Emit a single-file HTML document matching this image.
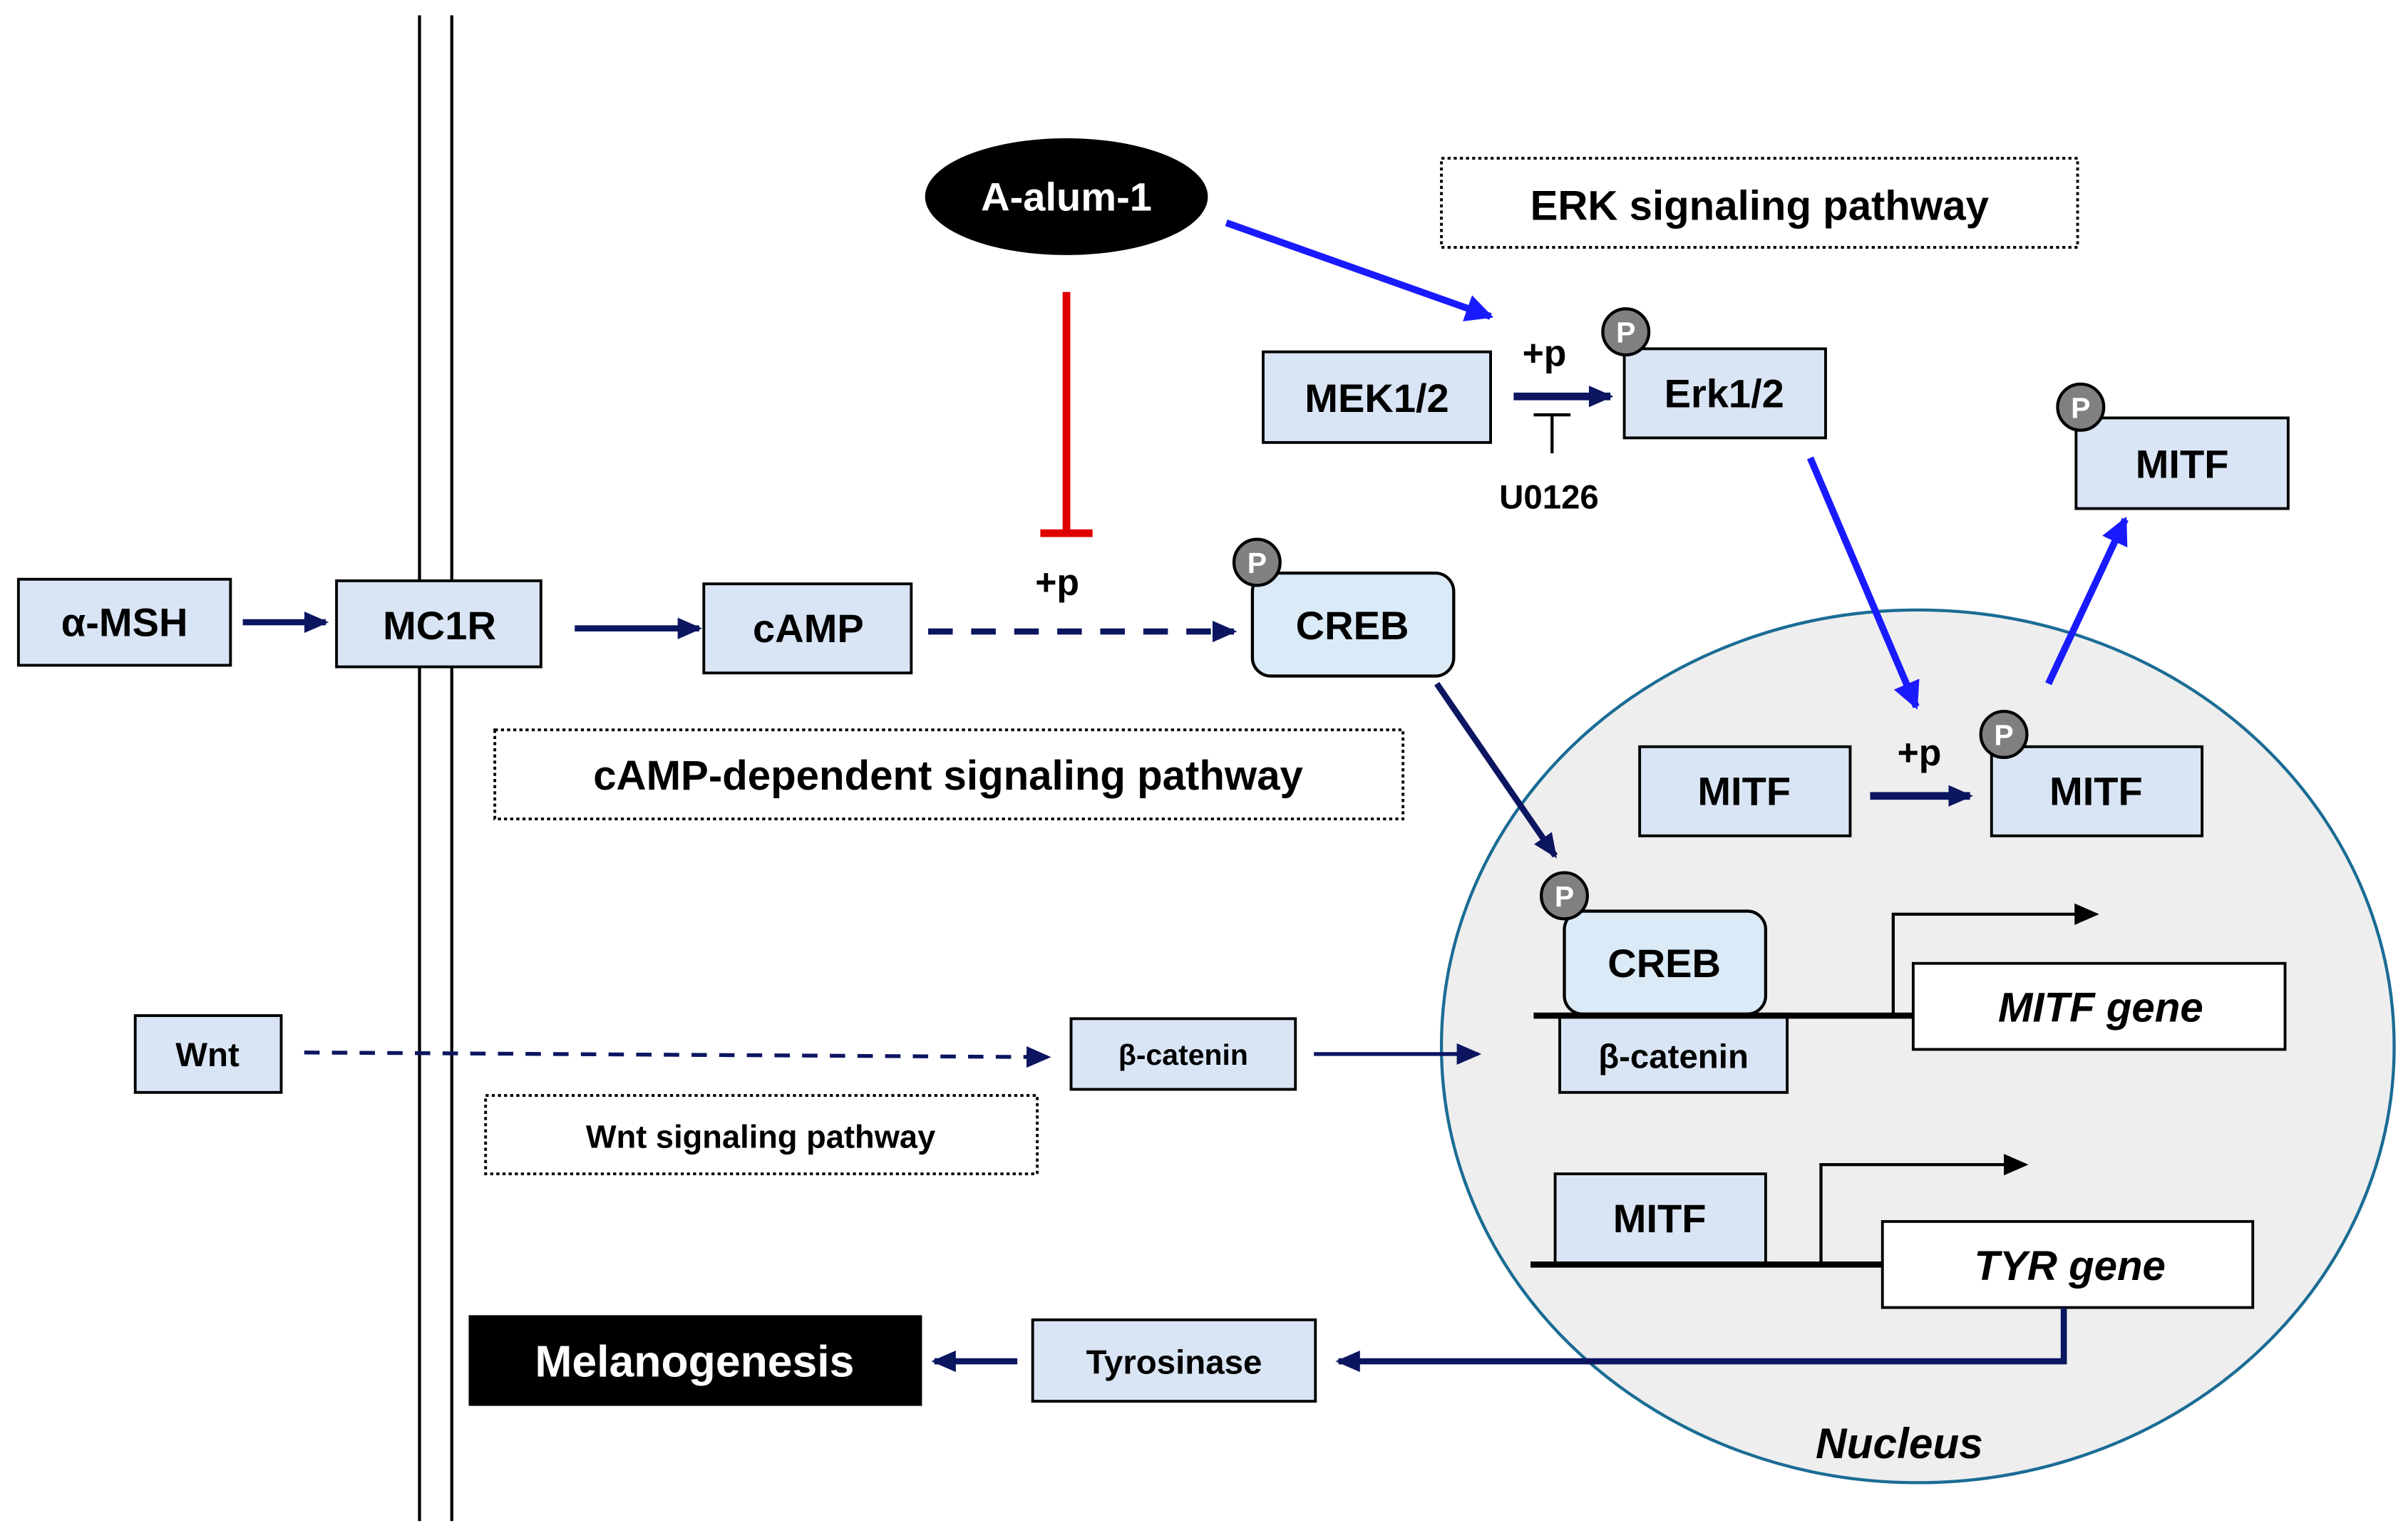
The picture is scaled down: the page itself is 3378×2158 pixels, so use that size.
<!DOCTYPE html>
<html><head><meta charset="utf-8"><style>html,body{margin:0;padding:0;background:#fff}svg{display:block}</style></head>
<body>
<svg width="3378" height="2158" viewBox="0 0 1567 1001" preserveAspectRatio="none" xmlns="http://www.w3.org/2000/svg" font-family="Liberation Sans, Arial, sans-serif" font-weight="bold">
<defs>
<marker id="an" markerWidth="16" markerHeight="16" refX="14" refY="8" orient="auto" markerUnits="userSpaceOnUse"><path d="M0,1 L16,8 L0,15 Z" fill="#0b1560"/></marker>
<marker id="ab" markerWidth="18" markerHeight="18" refX="16" refY="9" orient="auto" markerUnits="userSpaceOnUse"><path d="M0,0 L18,9 L0,18 Z" fill="#1a1aff"/></marker>
<marker id="ak" markerWidth="16" markerHeight="14" refX="14" refY="7" orient="auto" markerUnits="userSpaceOnUse"><path d="M0,0 L16,7 L0,14 Z" fill="#000"/></marker>
</defs>
<rect width="1567" height="1001" fill="#fff"/>
<ellipse cx="1248" cy="681" rx="310" ry="284" fill="#eeeeee" stroke="#1a6c94" stroke-width="2"/>
<line x1="273" y1="10" x2="273" y2="990" stroke="#000" stroke-width="2"/>
<line x1="294" y1="10" x2="294" y2="990" stroke="#000" stroke-width="2"/>
<g stroke="#000" stroke-width="1.8" stroke-dasharray="2,2" fill="none">
<rect x="938" y="103" width="414" height="58"/>
<rect x="322" y="475" width="591" height="58"/>
<rect x="316" y="713" width="359" height="51"/>
</g>
<g font-size="27" text-anchor="middle">
<text x="1145" y="143">ERK signaling pathway</text>
<text x="617" y="514">cAMP-dependent signaling pathway</text>
</g>
<text x="495" y="747" font-size="21" text-anchor="middle">Wnt signaling pathway</text>
<g fill="#d9e5f4" stroke="#000" stroke-width="1.8">
<rect x="12" y="377" width="138" height="56"/>
<rect x="219" y="378" width="133" height="56"/>
<rect x="458" y="380" width="135" height="58"/>
<rect x="822" y="229" width="148" height="59"/>
<rect x="1057" y="227" width="131" height="58"/>
<rect x="1351" y="272" width="138" height="59"/>
<rect x="1067" y="486" width="137" height="58"/>
<rect x="1296" y="486" width="137" height="58"/>
<rect x="1015" y="660" width="148" height="51"/>
<rect x="1012" y="764" width="137" height="58"/>
<rect x="88" y="661" width="95" height="50"/>
<rect x="697" y="663" width="146" height="46"/>
<rect x="672" y="859" width="184" height="53"/>
</g>
<g fill="#dbeaf7" stroke="#000" stroke-width="2">
<rect x="815" y="373" width="131" height="67" rx="12"/>
<rect x="1018" y="593" width="131" height="67" rx="12"/>
</g>
<g fill="#fff" stroke="#000" stroke-width="1.8">
<rect x="1245" y="627" width="242" height="56"/>
<rect x="1225" y="795" width="241" height="56"/>
</g>
<rect x="305" y="856" width="295" height="59" fill="#000"/>
<ellipse cx="694" cy="128" rx="92" ry="38" fill="#000"/>
<g font-size="26" text-anchor="middle">
<text x="81" y="414">α-MSH</text>
<text x="286" y="416">MC1R</text>
<text x="526" y="418">cAMP</text>
<text x="880" y="416">CREB</text>
<text x="896" y="268">MEK1/2</text>
<text x="1122" y="265">Erk1/2</text>
<text x="1420" y="311">MITF</text>
<text x="1135" y="524">MITF</text>
<text x="1364" y="524">MITF</text>
<text x="1083" y="636">CREB</text>
<text x="1080" y="802">MITF</text>
<text x="694" y="137" fill="#fff">A-alum-1</text>
<text x="452" y="896" fill="#fff" font-size="29">Melanogenesis</text>
</g>
<g font-size="22" text-anchor="middle">
<text x="1089" y="695">β-catenin</text>
<text x="135" y="694">Wnt</text>
<text x="764" y="894">Tyrosinase</text>
<text x="770" y="693" font-size="19">β-catenin</text>
<text x="1008" y="331">U0126</text>
<text x="688" y="387" font-size="24">+p</text>
<text x="1005" y="238" font-size="24">+p</text>
<text x="1249" y="498" font-size="24">+p</text>
</g>
<g font-size="27" font-style="italic" text-anchor="middle">
<text x="1367" y="665">MITF gene</text>
<text x="1347" y="833">TYR gene</text>
<text x="1236" y="949" font-size="28">Nucleus</text>
</g>
<g fill="#808080" stroke="#000" stroke-width="2">
<circle cx="1058" cy="216" r="15"/><circle cx="1354" cy="265" r="15"/>
<circle cx="818" cy="366" r="15"/><circle cx="1304" cy="478" r="15"/>
<circle cx="1018" cy="583" r="15"/>
</g>
<g fill="#fff" font-size="19" text-anchor="middle">
<text x="1058" y="223">P</text><text x="1354" y="272">P</text>
<text x="818" y="373">P</text><text x="1304" y="485">P</text>
<text x="1018" y="590">P</text>
</g>
<g stroke="#0b1560" stroke-width="4" fill="none" marker-end="url(#an)">
<line x1="158" y1="405" x2="212" y2="405"/>
<line x1="374" y1="409" x2="455" y2="409"/>
<line x1="604" y1="411" x2="803" y2="411" stroke-dasharray="16,12"/>
<line x1="985" y1="258" x2="1048" y2="258" stroke-width="5"/>
<line x1="1217" y1="518" x2="1282" y2="518" stroke-width="5"/>
<line x1="935" y1="445" x2="1012" y2="557"/>
<line x1="662" y1="886" x2="608" y2="886"/>
</g>
<g stroke="#0b1560" stroke-width="2.5" fill="none" marker-end="url(#an)">
<line x1="198" y1="685" x2="682" y2="688" stroke-dasharray="10,8"/>
<line x1="855" y1="686" x2="962" y2="686"/>
<polyline points="1343,851 1343,886 871,886" stroke-width="4"/>
</g>
<g stroke="#1a1aff" stroke-width="4.5" fill="none" marker-end="url(#ab)">
<line x1="798" y1="145" x2="970" y2="206"/>
<line x1="1178" y1="298" x2="1247" y2="460"/>
<line x1="1333" y1="445" x2="1383" y2="338"/>
</g>
<line x1="694" y1="190" x2="694" y2="347" stroke="#e00000" stroke-width="5"/>
<line x1="677" y1="347" x2="711" y2="347" stroke="#e00000" stroke-width="5"/>
<line x1="1010" y1="270" x2="1010" y2="295" stroke="#000" stroke-width="2"/>
<line x1="998" y1="270" x2="1022" y2="270" stroke="#000" stroke-width="2"/>
<line x1="998" y1="661" x2="1245" y2="661" stroke="#000" stroke-width="4"/>
<line x1="996" y1="823" x2="1225" y2="823" stroke="#000" stroke-width="4"/>
<polyline points="1232,661 1232,595 1364,595" stroke="#000" stroke-width="2" fill="none" marker-end="url(#ak)"/>
<polyline points="1185,823 1185,758 1318,758" stroke="#000" stroke-width="2" fill="none" marker-end="url(#ak)"/>
</svg>
</body></html>
